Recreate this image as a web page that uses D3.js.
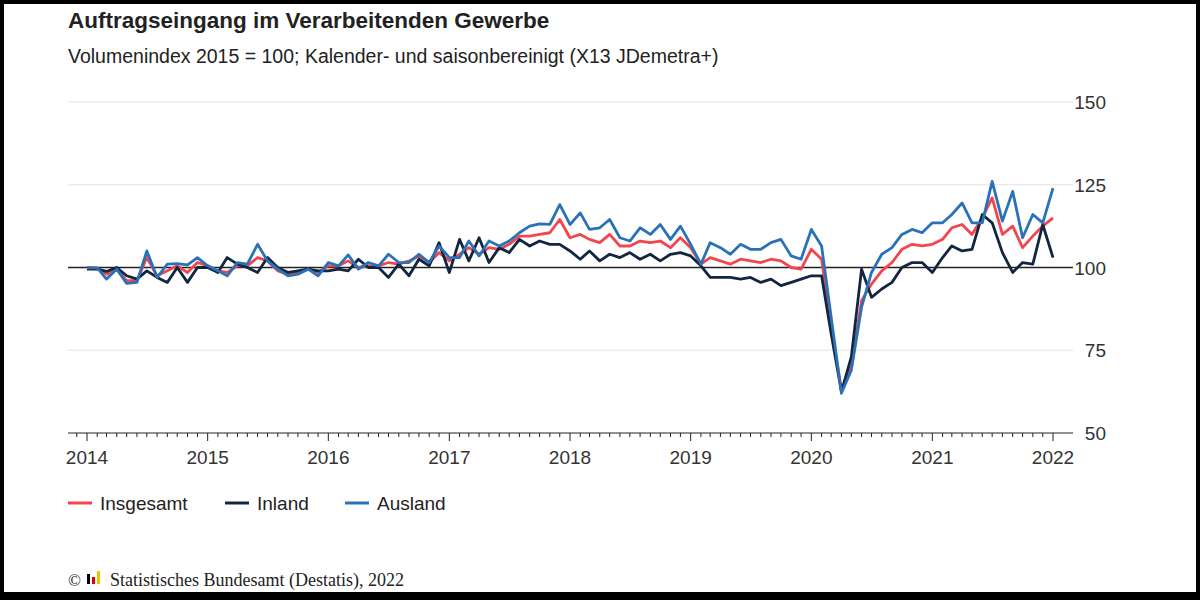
<!DOCTYPE html>
<html>
<head>
<meta charset="UTF-8">
<style>
  body { margin: 0; background: #000; }
  svg { display: block; }
  text { font-family: Arial, "Liberation Sans", sans-serif; }
  text.serif { font-family: "Liberation Serif", "DejaVu Serif", serif; }
</style>
</head>
<body>
<script src="https://cdn.jsdelivr.net/npm/d3@7"></script>
<script>
// monthly values Jan 2014 .. Jan 2022
var insgesamt = [100,99.8,98,99.5,96,96,103,97.5,99,100.5,98.5,101.5,
  100.5,99,98.5,100.5,100.5,103,102,99,98,98.5,99.5,98.5,
  100.5,100.5,102,100,100.5,100.5,101.5,101,102,103.5,101.5,104.5,
  102,104,106,104,106,105.5,107,109.5,109.5,110,110.5,114.5,
  109,110,108.5,107.5,110,106.5,106.5,108,107.5,108,106,109,
  106,101,103,102,101,102.5,102,101.5,102.5,102,100,99.5,
  105.5,102.5,82,63,70,90,95,99,101.5,105.5,107,106.5,
  107,108.5,112,113,110,115,121,110,112.5,106,109.5,112.5,115];
var inland = [99.5,99.5,98.8,100,97.5,96.5,99,97,95.5,100,95.5,100,
  100,98.5,103,101,100,98.5,103,100,98.5,99,99.5,99,
  99,99.5,99,102.5,100,100,97,101,97.5,102.5,100.5,107.5,
  98.5,108.5,102,109,101.5,106,104.5,108.5,106.5,108,107,107,
  105,102.5,105,102,104,103,104.5,102.5,104,102,104,104.5,
  103.5,100.5,97,97,97,96.5,97,95.5,96.5,94.5,95.5,96.5,
  97.5,97.5,80,62.5,73,99.5,91,93.5,95.5,100,101.5,101.5,
  98.5,103,106.5,105,105.5,116,113.5,104.5,98.5,101.5,101,113,103];
var ausland = [99.9,99.9,96.5,99.5,95.2,95.5,105,97,101,101.2,100.8,103,
  100.5,99,97.5,101.5,101,107,102,99.5,97.5,98,99.5,97.5,
  101.5,100.5,103.8,99.5,101.5,100.5,104,101.5,101.5,104,101.5,106.5,
  103,103,108,103.5,108,106.5,108,110.5,112.5,113.2,113,119,
  113,116.5,111.5,112,114.5,109,108,112,110,113,108.5,112.5,
  107,101,107.5,106,104,107,105.5,105.5,107.5,108.5,103.5,102.5,
  111.5,106.5,85,62,69,88,98.5,104,106,110,111.5,110.5,
  113.5,113.5,116,119.5,113.5,113.5,126,114,123,109,116,113.5,124];
var seriesNames = ["Insgesamt","Inland","Ausland"];
var seriesColors = ["#f4444c","#12263f","#2a72b8"];
var yTicks = [50,75,100,125,150];
var years = [2014,2015,2016,2017,2018,2019,2020,2021,2022];

var svg = d3.select("body").append("svg").attr("width",1200).attr("height",600);
svg.append("rect").attr("x",4).attr("y",4).attr("width",1192).attr("height",588).attr("fill","#fff");

var dates = d3.range(insgesamt.length).map(function(i){ return new Date(2014, i, 1); });
var x = d3.scaleTime().domain([new Date(2014,0,1), new Date(2022,0,1)]).range([87,1053]);
var y = d3.scaleLinear().domain([50,150]).range([433,102]);

svg.append("text").attr("x",68).attr("y",28).attr("font-size",22.5).attr("font-weight","bold")
  .attr("fill","#222").text("Auftragseingang im Verarbeitenden Gewerbe");
svg.append("text").attr("x",68).attr("y",63).attr("font-size",19.5).attr("fill","#222")
  .text("Volumenindex 2015 = 100; Kalender- und saisonbereinigt (X13 JDemetra+)");

// grid
svg.selectAll(".grid").data(yTicks.filter(function(d){ return d != 50 && d != 100; })).enter()
  .append("line").attr("x1",68).attr("x2",1073)
  .attr("y1",function(d){ return y(d); }).attr("y2",function(d){ return y(d); })
  .attr("stroke","#e3e3e3");
svg.selectAll(".ylab").data(yTicks).enter().append("text")
  .attr("x",1106).attr("y",function(d){ return y(d)+7; }).attr("text-anchor","end")
  .attr("font-size",19).attr("fill","#333").text(function(d){ return d; });

// x axis with monthly ticks
var months = d3.timeMonth.range(new Date(2013,11,1), new Date(2022,1,1));
svg.append("line").attr("x1",68).attr("x2",1073).attr("y1",433).attr("y2",433).attr("stroke","#222");
svg.selectAll(".mt").data(months).enter().append("line")
  .attr("x1",function(d){ return x(d); }).attr("x2",function(d){ return x(d); })
  .attr("y1",433).attr("y2",function(d){ return d.getMonth()==0 ? 441 : 437; })
  .attr("stroke","#222");
svg.selectAll(".xlab").data(years).enter().append("text")
  .attr("x",function(d){ return x(new Date(d,0,1)); }).attr("y",464).attr("text-anchor","middle")
  .attr("font-size",19).attr("fill","#333").text(function(d){ return d; });

// 100 baseline
svg.append("line").attr("x1",68).attr("x2",1073).attr("y1",y(100)).attr("y2",y(100)).attr("stroke","#222").attr("stroke-width",1.3);

var line = d3.line().x(function(d,i){ return x(dates[i]); }).y(function(d){ return y(d); });
[insgesamt, inland, ausland].forEach(function(s,k){
  svg.append("path").datum(s).attr("d",line).attr("fill","none")
    .attr("stroke",seriesColors[k]).attr("stroke-width",2.8).attr("stroke-linejoin","round");
});

// legend
var lx = [68,225,345];
seriesNames.forEach(function(n,k){
  svg.append("line").attr("x1",lx[k]).attr("x2",lx[k]+24).attr("y1",503).attr("y2",503)
    .attr("stroke",seriesColors[k]).attr("stroke-width",3);
  svg.append("text").attr("x",lx[k]+32).attr("y",510).attr("font-size",19).attr("fill","#222").text(n);
});

// footer
var f = svg.append("g").attr("transform","translate(68,580)");
f.append("text").attr("class","serif").attr("x",0).attr("y",6).attr("font-size",17).attr("fill","#222").text("©");
f.append("rect").attr("x",19).attr("y",-6).attr("width",3).attr("height",10).attr("fill","#000");
f.append("rect").attr("x",24).attr("y",-3).attr("width",3).attr("height",7).attr("fill","#d00");
f.append("rect").attr("x",29).attr("y",-9).attr("width",3).attr("height",13).attr("fill","#f0c000");
f.append("text").attr("class","serif").attr("x",42).attr("y",6).attr("font-size",18).attr("fill","#222")
  .text("Statistisches Bundesamt (Destatis), 2022");
</script>
</body>
</html>
